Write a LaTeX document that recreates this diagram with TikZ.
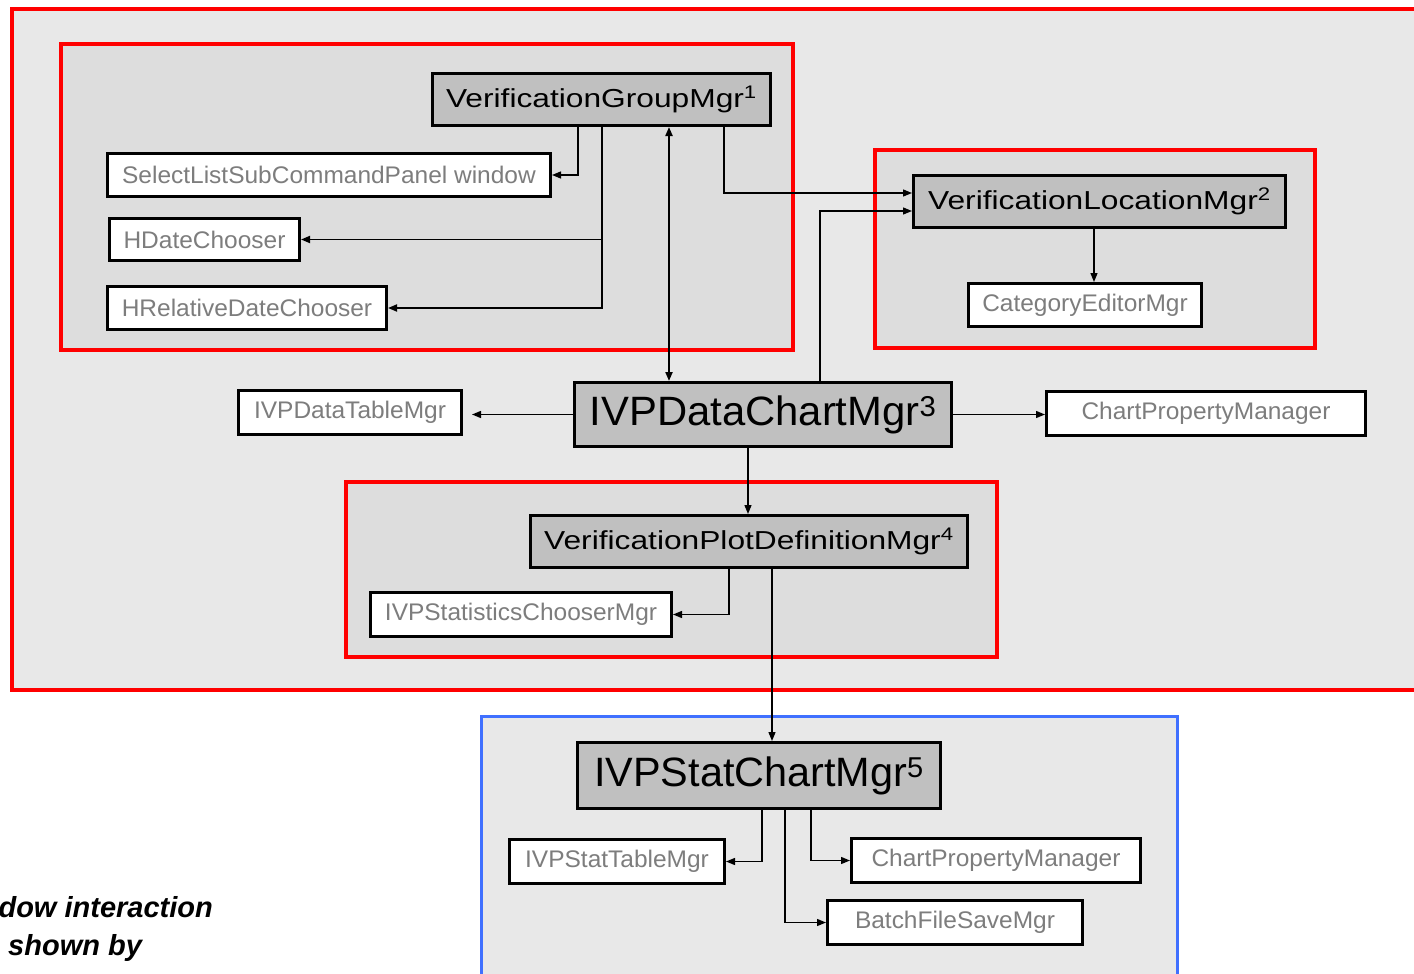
\documentclass[tikz,border=0pt]{standalone}
\usepackage{fontspec}
\setmainfont{Liberation Sans}
\usetikzlibrary{arrows.meta}

\definecolor{frameRed}{RGB}{255,0,0}
\definecolor{frameBlue}{RGB}{64,112,255}
\definecolor{outerFill}{RGB}{232,232,232}
\definecolor{groupFill}{RGB}{221,221,221}
\definecolor{mgrFill}{RGB}{192,192,192}
\definecolor{subText}{RGB}{125,125,125}

% label text: size, horizontal stretch, text
\newcommand\lbl[3]{\scalebox{#2}[1]{\fontsize{#1}{#1}\selectfont #3}}

\begin{document}
\begin{tikzpicture}[x=1pt,y=-1pt,
  mgr/.style={draw=black, line width=3pt, fill=mgrFill, inner sep=0pt, text=black, rectangle},
  sub/.style={draw=black, line width=3pt, fill=white, inner sep=0pt, text=subText, rectangle},
  conn/.style={draw=black, line width=1.3pt, -{Triangle[length=9pt,width=7pt]}},
  group/.style={draw=frameRed, line width=3.5pt, fill=groupFill},
]
\useasboundingbox (0,0) rectangle (1414,974);
\clip (0,0) rectangle (1414,974);

% frames
\draw[draw=frameRed, line width=3.5pt, fill=outerFill] (12,9) rectangle (1440,690);
\draw[group] (61,44) rectangle (793,350);
\draw[group] (875,150) rectangle (1315,348);
\draw[group] (346,482) rectangle (997,657);
\draw[draw=frameBlue, line width=3pt, fill=outerFill] (481,716) rectangle (1177,1000);

% managers
\node[mgr, minimum width=338pt, minimum height=52pt] (vgm) at (601.5,99.5)
  {\lbl{26}{1.22}{VerificationGroupMgr\textsuperscript{1}}};
\node[sub, minimum width=443pt, minimum height=43pt] (slcp) at (329,175)
  {\lbl{24}{1.02}{SelectListSubCommandPanel window}};
\node[sub, minimum width=190pt, minimum height=42pt] (hdc) at (204.5,239.5)
  {\lbl{24}{1.02}{HDateChooser}};
\node[sub, minimum width=279pt, minimum height=43pt] (hrdc) at (247,308)
  {\lbl{24}{1.02}{HRelativeDateChooser}};

\node[mgr, minimum width=372pt, minimum height=52pt] (vlm) at (1099.5,201.5)
  {\lbl{26}{1.22}{VerificationLocationMgr\textsuperscript{2}}};
\node[sub, minimum width=233pt, minimum height=43pt] (cem) at (1085,305)
  {\lbl{24}{1.02}{CategoryEditorMgr}};

\node[mgr, minimum width=377pt, minimum height=64pt] (dcm) at (763,414.5)
  {\lbl{41}{1.02}{IVPDataChartMgr\textsuperscript{3}}};
\node[sub, minimum width=223pt, minimum height=44pt] (dtm) at (350,412.5)
  {\lbl{24}{1.02}{IVPDataTableMgr}};
\node[sub, minimum width=319pt, minimum height=44pt] (cpm1) at (1206,413.5)
  {\lbl{24}{1.02}{ChartPropertyManager}};

\node[mgr, minimum width=437pt, minimum height=52pt] (vpd) at (749,541.5)
  {\lbl{26}{1.22}{VerificationPlotDefinitionMgr\textsuperscript{4}}};
\node[sub, minimum width=301pt, minimum height=44pt] (isc) at (521,614.5)
  {\lbl{24}{1.02}{IVPStatisticsChooserMgr}};

\node[mgr, minimum width=363pt, minimum height=66pt] (scm) at (759,775.5)
  {\lbl{41}{1.01}{IVPStatChartMgr\textsuperscript{5}}};
\node[sub, minimum width=215pt, minimum height=44pt] (stm) at (617,861.5)
  {\lbl{24}{1.02}{IVPStatTableMgr}};
\node[sub, minimum width=289pt, minimum height=44pt] (cpm2) at (996,860.5)
  {\lbl{24}{1.02}{ChartPropertyManager}};
\node[sub, minimum width=255pt, minimum height=44pt] (bfs) at (955,922.5)
  {\lbl{24}{1.02}{BatchFileSaveMgr}};

% note text in the lower left corner
\node[anchor=base east, inner sep=0pt, font=\fontsize{29}{29}\selectfont\bfseries\itshape] (note1) at (213,917) {Window interaction};
\node[anchor=base west, inner sep=0pt, font=\fontsize{29}{29}\selectfont\bfseries\itshape] (note2) at (8,955) {shown by};

% connectors of VerificationGroupMgr
\draw[conn] ([xshift=-23.5pt]vgm.south) |- (slcp.east);
\draw[conn, line width=1.8pt] ([xshift=0.5pt]vgm.south) |- (hdc.east);
\draw[conn, line width=1.8pt] ([xshift=0.5pt]vgm.south) |- (hrdc.east);
\draw[line width=2pt, {Triangle[length=9pt,width=7pt]}-{Triangle[length=9pt,width=7pt]}]
  ([xshift=67.5pt]vgm.south) -- ([xshift=67.5pt]vgm.south |- dcm.north);
\draw[conn] ([xshift=122.5pt]vgm.south) |- ([yshift=8.5pt]vlm.west);

% connectors of VerificationLocationMgr
\draw[conn] ([xshift=57pt]dcm.north) |- ([yshift=-9.5pt]vlm.west);
\draw[conn] ([xshift=-5.5pt]vlm.south) -- ([xshift=-5.5pt]vlm.south |- cem.north);

% connectors of IVPDataChartMgr
\draw[conn, shorten >=9pt] (dcm.west) -- (dcm.west -| dtm.east);
\draw[conn] (dcm.east) -- (dcm.east -| cpm1.west);
\draw[conn] ([xshift=-15pt]dcm.south) -- ([xshift=-15pt]dcm.south |- vpd.north);

% connectors of VerificationPlotDefinitionMgr
\draw[conn] ([xshift=-20pt]vpd.south) |- (isc.east);
\draw[conn] ([xshift=23pt]vpd.south) -- ([xshift=23pt]vpd.south |- scm.north);

% connectors of IVPStatChartMgr
\draw[conn] ([xshift=3pt]scm.south) |- (stm.east);
\draw[conn] ([xshift=52pt]scm.south) |- (cpm2.west);
\draw[conn] ([xshift=26pt]scm.south) |- (bfs.west);
\end{tikzpicture}
\end{document}
